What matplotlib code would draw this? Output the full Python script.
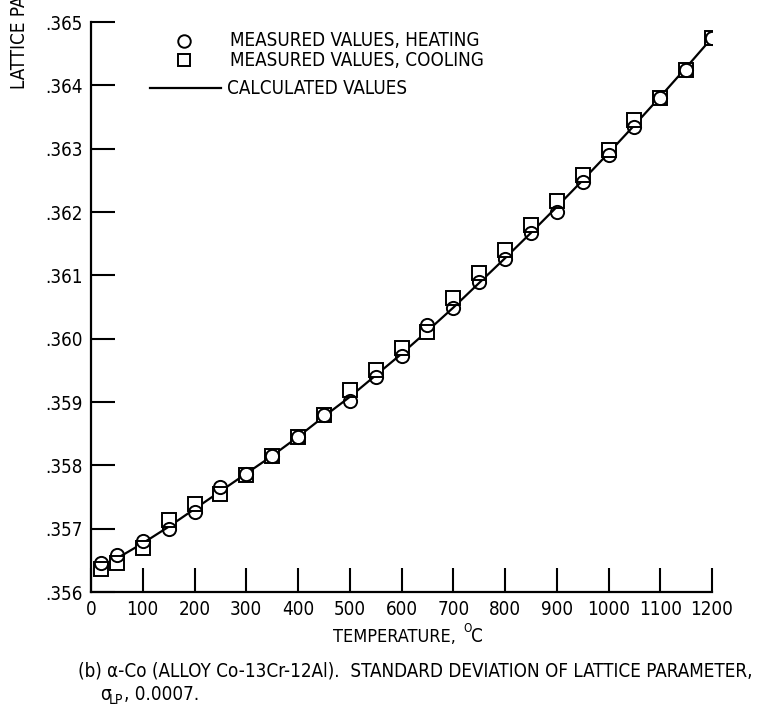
import matplotlib
matplotlib.use("Agg")
import matplotlib.pyplot as plt

plt.rcParams['font.family'] = ['DejaVu Sans']
plt.rcParams['font.stretch'] = 'condensed'

# measured lattice parameter, heating run
temp_heat = [20, 50, 100, 150, 200, 250, 300, 350, 400, 450, 500, 550, 600,
             650, 700, 750, 800, 850, 900, 950, 1000, 1050, 1100, 1150, 1200]
lp_heat = [0.35646, 0.35659, 0.35680, 0.35700, 0.35727, 0.35766, 0.35786,
           0.35815, 0.35844, 0.35880, 0.35902, 0.35940, 0.35972, 0.36022,
           0.36048, 0.36089, 0.36126, 0.36167, 0.36200, 0.36248, 0.36290,
           0.36335, 0.36380, 0.36425, 0.36475]

# measured lattice parameter, cooling run
temp_cool = [20, 50, 100, 150, 200, 250, 300, 350, 400, 450, 500, 550, 600,
             650, 700, 750, 800, 850, 900, 950, 1000, 1050, 1100, 1150, 1200]
lp_cool = [0.35636, 0.35646, 0.35670, 0.35714, 0.35739, 0.35754, 0.35785,
           0.35814, 0.35844, 0.35880, 0.35919, 0.35951, 0.35985, 0.36011,
           0.36064, 0.36103, 0.36140, 0.36180, 0.36217, 0.36259, 0.36298,
           0.36346, 0.36380, 0.36425, 0.36475]

# calculated curve
temp_calc = [20, 50, 100, 150, 200, 250, 300, 350, 400, 450, 500, 550, 600,
             650, 700, 750, 800, 850, 900, 950, 1000, 1050, 1100, 1150, 1200]
lp_calc = [0.35641, 0.35653, 0.35677, 0.35703, 0.35731, 0.35759, 0.35787,
           0.35815, 0.35845, 0.35877, 0.35908, 0.35942, 0.35976, 0.36012,
           0.36049, 0.36088, 0.36127, 0.36167, 0.36208, 0.36250, 0.36293,
           0.36337, 0.36382, 0.36428, 0.36475]

xticks = [0, 100, 200, 300, 400, 500, 600, 700, 800, 900, 1000, 1100, 1200]
yticks = [0.356, 0.357, 0.358, 0.359, 0.360, 0.361, 0.362, 0.363, 0.364, 0.365]
ylabels = ['.356', '.357', '.358', '.359', '.360', '.361', '.362', '.363', '.364', '.365']

fig = plt.figure(figsize=(7.6, 7.13), dpi=100)
ax = fig.add_axes([91 / 760, 1 - 592 / 713, (712 - 91) / 760, (592 - 22) / 713])

ax.plot(temp_calc, lp_calc, color='black', lw=1.6, zorder=1)
ax.plot(temp_cool, lp_cool, ls='none', marker='s', ms=9.5, mfc='white',
        mec='black', mew=1.4, zorder=2)
ax.plot(temp_heat, lp_heat, ls='none', marker='o', ms=9.5, mfc='none',
        mec='black', mew=1.4, zorder=3)

ax.set_xlim(0, 1200)
ax.set_ylim(0.356, 0.365)
ax.set_xticks(xticks)
ax.set_xticklabels([str(t) for t in xticks])
ax.set_yticks(yticks)
ax.set_yticklabels(ylabels)
ax.tick_params(direction='in', length=17, width=1.5, labelsize=13.5, pad=6)
for s in ['top', 'right']:
    ax.spines[s].set_visible(False)
for s in ['left', 'bottom']:
    ax.spines[s].set_linewidth(1.6)


# helpers for placing things in figure pixels
def fx(px):
    return px / 760


def fy(py):
    return 1 - py / 713


# axis title with a raised degree "O"
fig.text(fx(333), fy(637), 'TEMPERATURE,', fontsize=13, va='center')
fig.text(fx(463), fy(628), 'O', fontsize=8.5, va='center')
fig.text(fx(471), fy(637), 'C', fontsize=13.5, va='center')

# legend
fig.lines.append(plt.Line2D([fx(184)], [fy(41)], marker='o', ms=9, mfc='none',
                            mec='black', mew=1.4, transform=fig.transFigure))
fig.lines.append(plt.Line2D([fx(184)], [fy(60)], marker='s', ms=9, mfc='none',
                            mec='black', mew=1.4, transform=fig.transFigure))
fig.lines.append(plt.Line2D([fx(150), fx(221)], [fy(88), fy(88)], color='black',
                            lw=1.6, transform=fig.transFigure))
fig.text(fx(230), fy(41), 'MEASURED VALUES, HEATING', fontsize=13.5, va='center')
fig.text(fx(230), fy(60), 'MEASURED VALUES, COOLING', fontsize=13.5, va='center')
fig.text(fx(227), fy(88), 'CALCULATED VALUES', fontsize=13.5, va='center')

fig.text(fx(20), fy(89), 'LATTICE PARAMETER, nm', rotation=90, fontsize=13.5,
         ha='center', va='bottom')

fig.text(fx(78), fy(671), '(b) \u03b1-Co (ALLOY Co-13Cr-12Al).  STANDARD DEVIATION OF LATTICE PARAMETER,',
         fontsize=13.5, va='center')
fig.text(fx(100), fy(695), '\u03c3', fontsize=13.5, va='center')
fig.text(fx(109), fy(700), 'LP', fontsize=10, va='center')
fig.text(fx(124), fy(695), ', 0.0007.', fontsize=13.5, va='center')

fig.savefig('out.png', dpi=100)
